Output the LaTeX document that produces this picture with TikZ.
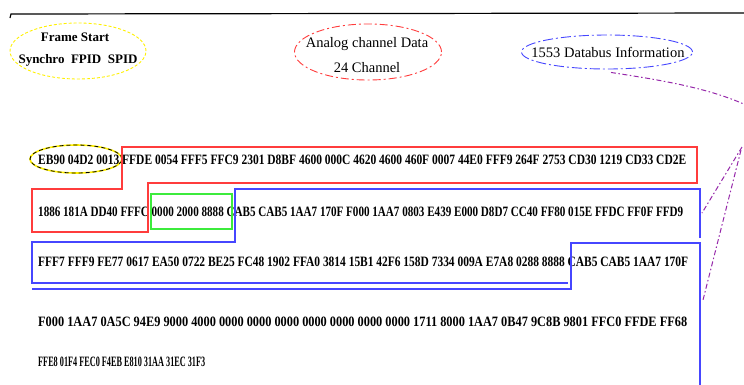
\documentclass[tikz,border=0pt]{standalone}
\usepackage{fontspec}
\setmainfont{Liberation Serif}
\usetikzlibrary{shapes.geometric}
\definecolor{cyel}{RGB}{255,240,0}
\definecolor{cred}{RGB}{255,60,60}
\definecolor{cgrn}{RGB}{60,235,60}
\definecolor{cblu}{RGB}{70,70,255}
\definecolor{cpur}{RGB}{150,40,170}
\newcommand{\hexrow}[2]{\resizebox{#1pt}{9.5pt}{\bfseries #2}}
\tikzset{
  lbl/.style={inner sep=0pt, font=\fontsize{13}{13}\selectfont},
  biglbl/.style={inner sep=0pt, font=\fontsize{14.5}{14.5}\selectfont},
  hex/.style={inner sep=0pt, anchor=west},
  oval/.style={ellipse, draw, inner sep=0pt},
  frame/.style={line width=1.3pt},
  conn/.style={cpur, line width=1pt, dash pattern=on 5pt off 2.5pt on 1.5pt off 2.5pt}
}
\begin{document}
\begin{tikzpicture}[x=1pt,y=-1pt]
\useasboundingbox (0,0) rectangle (744,384);
\begin{scope}
\clip (0,0) rectangle (744,384);
% top rule
\draw[line width=1.2pt] (10,18) -- (11,14) -- (744,13);

% header ellipses
\node[oval, cyel, line width=0.9pt, dash pattern=on 3pt off 2pt, minimum width=136pt, minimum height=56pt] (eframe) at (78,51) {};
\node[lbl] (tframe1) at (75,37) {\bfseries Frame Start};
\node[lbl] (tframe2) at (78,60) {\bfseries Synchro\ \ FPID\ \ SPID};

\node[oval, cred, line width=0.9pt, dash pattern=on 8pt off 3pt on 2pt off 3pt, minimum width=147pt, minimum height=56pt] (eanalog) at (368,52) {};
\node[biglbl] (tanalog1) at (367,44) {Analog channel Data};
\node[biglbl] (tanalog2) at (367,68) {24 Channel};

\node[oval, cblu, line width=0.9pt, dash pattern=on 10pt off 3pt on 2pt off 3pt, minimum width=171pt, minimum height=34pt] (ebus) at (607,52) {};
\node[biglbl] (tbus) at (608,52) {1553 Databus Information};

% hex data rows
\node[hex] (r1) at (38,160) {\hexrow{648}{EB90 04D2 0013 FFDE 0054 FFF5 FFC9 2301 D8BF 4600 000C 4620 4600 460F 0007 44E0 FFF9 264F 2753 CD30 1219 CD33 CD2E}};
\node[hex] (r2) at (38,212) {\hexrow{645}{1886 181A DD40 FFFC 0000 2000 8888 CAB5 CAB5 1AA7 170F F000 1AA7 0803 E439 E000 D8D7 CC40 FF80 015E FFDC FF0F FFD9}};
\node[hex] (r3) at (38,262) {\hexrow{650}{FFF7 FFF9 FE77 0617 EA50 0722 BE25 FC48 1902 FFA0 3814 15B1 42F6 158D 7334 009A E7A8 0288 8888 CAB5 CAB5 1AA7 170F}};
\node[hex] (r4) at (38,322) {\hexrow{649}{F000 1AA7 0A5C 94E9 9000 4000 0000 0000 0000 0000 0000 0000 0000 1711 8000 1AA7 0B47 9C8B 9801 FFC0 FFDE FF68}};
\node[hex] (r5) at (38,362) {\hexrow{167}{FFE8 01F4 FEC0 F4EB E810 31AA 31EC 31F3}};

% synchro word marker
\node[oval, cyel, line width=1.6pt, minimum width=92pt, minimum height=28pt] (esync) at (76,159) {};
\node[oval, black, line width=0.8pt, dash pattern=on 4pt off 3pt, minimum width=92pt, minimum height=28pt] (esyncd) at (76,159) {};

% analog channel frame (red)
\draw[frame, cred] (122,147) -- (697,147) -- (697,183) -- (148,183) -- (148,232) -- (32,232) -- (32,189) -- (122,189) -- cycle;

% green block
\draw[frame, cgrn] (151,194) rectangle (232,229);

% databus frames (blue)
\draw[frame, cblu] (700,238) -- (700,189) -- (235,189) -- (235,242) -- (32,242) -- (32,283) -- (568,283);
\draw[frame, cblu] (32,289) -- (571,289) -- (571,243) -- (700,243) -- (700,390);

% connectors from databus label
\coordinate (cfar) at (748,106);
\coordinate (chub1) at (742,147);
\coordinate (chub2) at (741,150);
\draw[conn] (ebus.south) ++(4,3) .. controls (660,80) and (710,88) .. (cfar);
\draw[conn] (chub1) -- (702,213);
\draw[conn] (chub2) -- (703,300);
\end{scope}
\end{tikzpicture}
\end{document}
